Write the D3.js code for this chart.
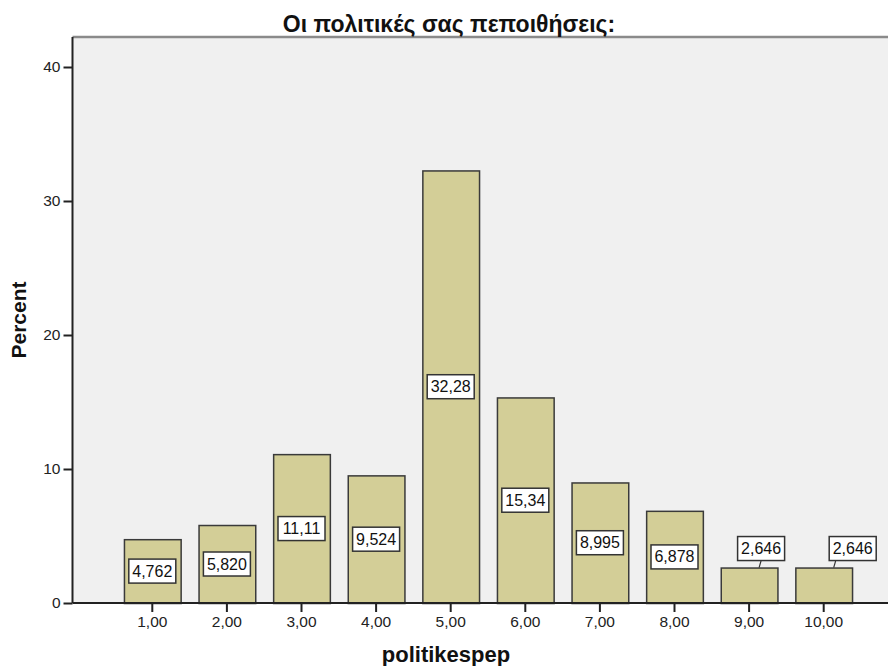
<!DOCTYPE html>
<html>
<head>
<meta charset="utf-8">
<script src="https://cdn.jsdelivr.net/npm/d3@7"></script>
<style>
  body { margin: 0; background: #fff; }
  text { font-family: "Liberation Sans", Arial, sans-serif; }
</style>
</head>
<body>
<script>
// chart data
var title = "Οι πολιτικές σας πεποιθήσεις:";
var xLabel = "politikespep";
var yLabel = "Percent";
var categories = [1, 2, 3, 4, 5, 6, 7, 8, 9, 10];
var percents = [4.762, 5.820, 11.11, 9.524, 32.28, 15.34, 8.995, 6.878, 2.646, 2.646];
var yTicks = [0, 10, 20, 30, 40];

var width = 890, height = 666;
// plot frame (not "top": window.top is read only)
var pLeft = 72.5, pRight = 888, pTop = 37, pBottom = 603;

// greek style numbers, comma as decimal sign
var loc = d3.formatLocale({decimal: ",", thousands: ".", grouping: [3], currency: ["", "€"]});
var fmtCat = loc.format(".2f");
var fmtVal = loc.format(".4r");

var svg = d3.select('body').append('svg').attr('width', width).attr('height', height);

var x = d3.scaleBand().domain(categories).range([115, 861]).paddingInner(0.24).paddingOuter(0.12);
var y = d3.scaleLinear().domain([0, 40]).range([pBottom, 67]);

// plot background
svg.append('rect').attr('x', pLeft).attr('y', pTop).attr('width', pRight - pLeft).attr('height', pBottom - pTop)
  .attr('fill', '#f0f0f0');
svg.append('line').attr('x1', pLeft).attr('x2', pRight).attr('y1', pTop).attr('y2', pTop)
  .attr('stroke', '#8a8a8a').attr('stroke-width', 2.5);

// bars
svg.selectAll('rect.bar').data(percents).enter().append('rect')
  .attr('class', 'bar')
  .attr('x', function(d, i) { return x(categories[i]) + 0.5; })
  .attr('y', function(d) { return y(d) + 0.5; })
  .attr('width', x.bandwidth())
  .attr('height', function(d) { return pBottom - y(d); })
  .attr('fill', '#d3ce97')
  .attr('stroke', '#3a3a3a')
  .attr('stroke-width', 1.5);

// axes
var yAxis = svg.append('g').attr('transform', 'translate(' + pLeft + ',0)')
  .call(d3.axisLeft(y).tickValues(yTicks).tickSize(9).tickPadding(3));
var xAxis = svg.append('g').attr('transform', 'translate(0,' + pBottom + ')')
  .call(d3.axisBottom(x).tickFormat(fmtCat).tickSize(9).tickPadding(4));
yAxis.select('.domain').attr('d', 'M0,' + pTop + 'V' + pBottom);
xAxis.select('.domain').attr('d', 'M' + pLeft + ',0H' + pRight);
svg.selectAll('.domain').attr('stroke', '#222').attr('stroke-width', 2);
svg.selectAll('.tick line').attr('stroke', '#222').attr('stroke-width', 2);
svg.selectAll('.tick text').attr('font-size', 15.5).attr('fill', '#222')
  .style('font-family', '"Liberation Sans", Arial, sans-serif');

// value labels: inside at mid-height, or above with a leader when the bar is short
var boxW = 47, boxH = 24;
var aboveShift = [12, 29];
var nAbove = 0;
svg.selectAll('g.lab').data(percents).enter().append('g').attr('class', 'lab')
  .each(function(d, i) {
    var g = d3.select(this);
    var cx = x(categories[i]) + x.bandwidth() / 2;
    var cy = y(d / 2);
    var outside = (pBottom - y(d)) < boxH + 20;
    if (outside) {
      var dx = aboveShift[nAbove++];
      var barTop = y(d);
      cy = barTop - 7 - boxH / 2;
      g.append('line').attr('x1', cx + 10).attr('y1', barTop).attr('x2', cx + 12).attr('y2', barTop - 7)
        .attr('stroke', '#333').attr('stroke-width', 1.2);
      cx = cx + dx;
    }
    g.append('rect').attr('x', cx - boxW / 2).attr('y', cy - boxH / 2)
      .attr('width', boxW).attr('height', boxH)
      .attr('fill', '#fff').attr('stroke', '#333').attr('stroke-width', 1.5);
    g.append('text').attr('x', cx).attr('y', cy + 5.5).attr('text-anchor', 'middle')
      .attr('font-size', 16).attr('fill', '#111').text(fmtVal(d));
  });

// titles
svg.append('text').attr('x', 449).attr('y', 32).attr('text-anchor', 'middle')
  .attr('font-size', 23).attr('font-weight', 'bold').attr('fill', '#111').text(title);
svg.append('text').attr('x', 446).attr('y', 662).attr('text-anchor', 'middle')
  .attr('font-size', 22).attr('font-weight', 'bold').attr('fill', '#111').text(xLabel);
svg.append('text').attr('transform', 'translate(26,320) rotate(-90)').attr('text-anchor', 'middle')
  .attr('font-size', 21).attr('font-weight', 'bold').attr('fill', '#111').text(yLabel);
</script>
</body>
</html>
